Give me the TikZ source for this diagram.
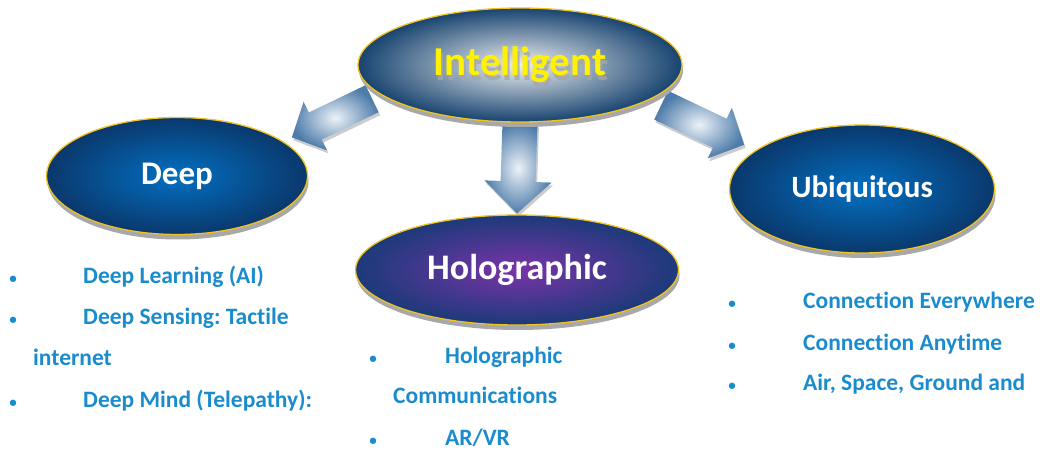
\documentclass[tikz,border=0pt]{standalone}
\usepackage{fontspec}
\setmainfont{Carlito}[Ligatures={NoCommon}]
\usetikzlibrary{calc}
\usetikzlibrary{shapes.geometric}
\usetikzlibrary{shadows,backgrounds}
\definecolor{ringgold}{RGB}{240,195,30}
\definecolor{rimgray}{RGB}{168,168,168}
\definecolor{intlight}{RGB}{238,240,242}
\definecolor{intnavy}{RGB}{24,68,112}
\definecolor{blueglow}{RGB}{2,112,194}
\definecolor{bluedeep}{RGB}{10,56,108}
\definecolor{purpleglow}{RGB}{122,52,168}
\definecolor{purplenavy}{RGB}{28,58,122}
\definecolor{arrowhi}{RGB}{236,242,248}
\definecolor{arrowblue}{RGB}{78,124,170}
\definecolor{itemblue}{RGB}{26,140,206}
\frenchspacing

\begin{document}
\begin{tikzpicture}[x=1pt, y=1pt,
		bubble/.style={ellipse, draw=ringgold, line width=1.3pt, inner sep=0pt, text=white,
			general shadow={fill=rimgray, shadow yshift=-5pt, shadow xshift=1pt}},
		arrowbody/.style={inner color=arrowhi, outer color=arrowblue},
		arrowrim/.style={fill=gray!40, transform canvas={shift={(1.5pt,-3pt)}}},
		item/.style={anchor=base west, inner sep=0pt, text=itemblue, font=\bfseries\fontsize{23.5}{28}\selectfont},
		bul/.style={item, anchor=base, font=\bfseries\fontsize{15}{18}\selectfont}]
			\useasboundingbox (0,0) rectangle (1043,450);
			% the four bubbles
			\node[bubble, minimum width=324pt, minimum height=114pt, inner color=intlight, outer color=intnavy] (int) at (520,385) {};
			\node[text=gray!70, opacity=0.8, font=\bfseries\fontsize{41}{48}\selectfont] (intshadow) at ($(int)+(2,-5)$) {Intelligent};
			\node[text=yellow, font=\bfseries\fontsize{41}{48}\selectfont] (inttext) at (int) {Intelligent};
			\node[bubble, minimum width=261pt, minimum height=117pt, inner color=blueglow, outer color=bluedeep, font=\bfseries\fontsize{33}{40}\selectfont] (deep) at (177,274) {Deep};
			\node[bubble, minimum width=323pt, minimum height=110pt, inner color=purpleglow, outer color=purplenavy, font=\bfseries\fontsize{36}{43}\selectfont] (holo) at (517,180) {Holographic};
			\node[bubble, minimum width=265pt, minimum height=128pt, inner color=blueglow, outer color=bluedeep, font=\bfseries\fontsize{31}{37}\selectfont] (ubi) at (862,261) {Ubiquitous};
			% fat arrows behind the bubbles
			\begin{scope}[on background layer]
				\foreach \from/\to/\hl/\sw/\hw/\hd in {int.192/deep.18/44.5pt/15pt/27pt/26pt, int.south/holo.north/45pt/17.5pt/33.5pt/32pt, int.-15/ubi.160/46pt/16pt/28pt/27pt} {
					\coordinate (mid) at ($(\from)!0.5!(\to)$);
					\coordinate (tail) at ($(mid)!\hl!(\from)$);
					\coordinate (tip) at ($(mid)!\hl!(\to)$);
					\coordinate (base) at ($(tip)!\hd!(tail)$);
					\foreach \look in {arrowrim, arrowbody}
						\path[\look] ($(tail)!\sw!90:(tip)$) -- ($(base)!\sw!-90:(tail)$) -- ($(base)!\hw!-90:(tail)$) -- (tip)
							-- ($(base)!\hw!90:(tail)$) -- ($(base)!\sw!90:(tail)$) -- ($(tail)!\sw!-90:(tip)$) -- cycle;
				}
			\end{scope}
			% deep list
			\node[bul] (dbul1) at (13,167) {\textbullet};
			\node[item] (dl1) at (83,167) {Deep Learning (AI)};
			\node[bul] (dbul2) at (13,126) {\textbullet};
			\node[item] (dl2) at (83,126) {Deep Sensing: Tactile};
			\node[item] (dl3) at (33,85) {internet};
			\node[bul] (dbul3) at (13,43) {\textbullet};
			\node[item] (dl4) at (83,43) {Deep Mind (Telepathy):};
			% holographic list
			\node[bul] (hbul1) at (373,87) {\textbullet};
			\node[item] (hl1) at (445,87) {Holographic};
			\node[item] (hl2) at (393,47) {Communications};
			\node[bul] (hbul2) at (373,5) {\textbullet};
			\node[item] (hl3) at (445,5) {AR/VR};
			% ubiquitous list
			\node[bul] (ubul1) at (732,142) {\textbullet};
			\node[item] (ul1) at (803,142) {Connection Everywhere};
			\node[bul] (ubul2) at (732,100) {\textbullet};
			\node[item] (ul2) at (803,100) {Connection Anytime};
			\node[bul] (ubul3) at (732,60) {\textbullet};
			\node[item] (ul3) at (803,60) {Air, Space, Ground and};
		\end{tikzpicture}
\end{document}
